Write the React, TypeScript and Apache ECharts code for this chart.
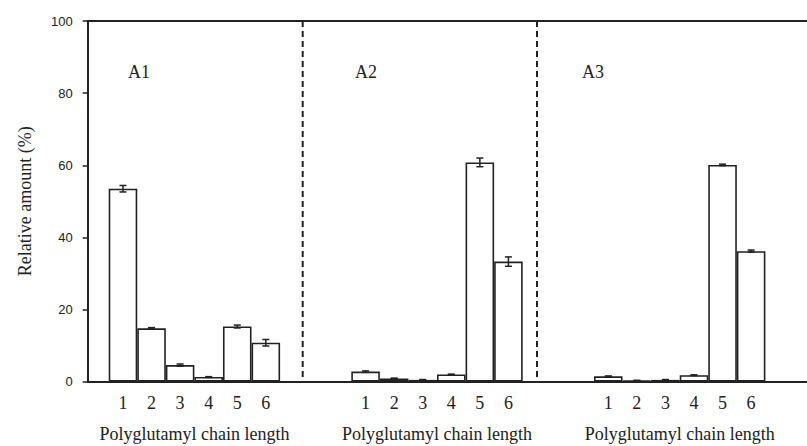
import React, { useEffect, useRef } from "react";
import * as echarts from "echarts";

// ---- data ----
const categories = ["1", "2", "3", "4", "5", "6"];
const panelLabels = ["A1", "A2", "A3"];
const a1Values = [53.5, 14.8, 4.6, 1.3, 15.3, 10.8];
const a1Errors = [0.9, 0.2, 0.3, 0.1, 0.4, 0.9];
const a2Values = [2.8, 0.9, 0.5, 2.0, 60.8, 33.3];
const a2Errors = [0.2, 0.1, 0.1, 0.1, 1.2, 1.3];
const a3Values = [1.5, 0.3, 0.5, 1.8, 60.1, 36.2];
const a3Errors = [0.1, 0.1, 0.1, 0.1, 0.2, 0.3];
const xAxisName = "Polyglutamyl chain length";
const yAxisName = "Relative amount (%)";
const yMin = 0;
const yMax = 100;
const yInterval = 20;

// ---- layout ----
const W = 807;
const H = 446;
const PLOT_TOP = 21;
const PLOT_BOTTOM = 381.7;
const Y_AXIS_X = 87.7;
const PANEL_LEFTS = [108.7, 351.3, 594];
const PANEL_WIDTH = 171.4;
const SEPARATORS = [302.7, 537];
const LABEL_POS = [
  [128, 72],
  [355, 72],
  [582, 72],
];
const INK = "#222";
const SERIF = "Liberation Serif";
const SANS = "Liberation Sans";

const panelValues = [a1Values, a2Values, a3Values];
const panelErrors = [a1Errors, a2Errors, a3Errors];

export default function App() {
  const ref = useRef<HTMLDivElement>(null);

  useEffect(() => {
    if (!ref.current) return;
    const chart = echarts.init(ref.current, null, { renderer: "svg" });
    const gridBottom = H - PLOT_BOTTOM;

    const grids: any[] = [
      {
        left: Y_AXIS_X,
        right: 0,
        top: PLOT_TOP,
        bottom: gridBottom,
        outerBoundsMode: "none",
      },
      ...PANEL_LEFTS.map((l) => ({
        left: l,
        width: PANEL_WIDTH,
        top: PLOT_TOP,
        bottom: gridBottom,
        outerBoundsMode: "none",
      })),
    ];

    const xAxes: any[] = [
      {
        type: "value",
        gridIndex: 0,
        min: 0,
        max: 1,
        position: "bottom",
        axisLine: { show: true, onZero: false, lineStyle: { color: INK, width: 2 } },
        axisTick: { show: false },
        axisLabel: { show: false },
        splitLine: { show: false },
      },
      {
        type: "value",
        gridIndex: 0,
        min: 0,
        max: 1,
        position: "top",
        axisLine: { show: true, onZero: false, lineStyle: { color: INK, width: 2 } },
        axisTick: { show: false },
        axisLabel: { show: false },
        splitLine: { show: false },
      },
      ...PANEL_LEFTS.map((_, i) => ({
        type: "category",
        gridIndex: i + 1,
        data: categories,
        axisLine: { show: false },
        axisTick: { show: false },
        axisLabel: {
          margin: 12,
          fontFamily: SERIF,
          fontSize: 18,
          color: INK,
        },
        name: xAxisName,
        nameLocation: "middle",
        nameGap: 43,
        nameTextStyle: { fontFamily: SERIF, fontSize: 18, color: INK },
        splitLine: { show: false },
      })),
    ];

    const yAxes: any[] = [
      {
        type: "value",
        gridIndex: 0,
        min: yMin,
        max: yMax,
        interval: yInterval,
        axisLine: { show: true, lineStyle: { color: INK, width: 2 } },
        axisTick: { show: true, inside: false, length: 5, lineStyle: { color: INK, width: 1.5 } },
        axisLabel: { margin: 15, fontFamily: SANS, fontSize: 13, color: INK },
        splitLine: { show: false },
        name: yAxisName,
        nameLocation: "middle",
        nameRotate: 90,
        nameGap: 54,
        nameTextStyle: { fontFamily: SERIF, fontSize: 18, color: INK },
      },
      ...PANEL_LEFTS.map((_, i) => ({
        type: "value",
        gridIndex: i + 1,
        min: yMin,
        max: yMax,
        show: false,
      })),
    ];

    const series: any[] = [];
    panelValues.forEach((vals, i) => {
      series.push({
        type: "bar",
        name: panelLabels[i],
        xAxisIndex: i + 2,
        yAxisIndex: i + 1,
        data: vals,
        barCategoryGap: "0%",
        itemStyle: { color: "#fff", borderColor: INK, borderWidth: 1.6 },
        emphasis: { disabled: true },
        silent: true,
      });
      series.push({
        type: "custom",
        name: panelLabels[i] + " error",
        xAxisIndex: i + 2,
        yAxisIndex: i + 1,
        silent: true,
        data: vals.map((v, j) => [j, v - panelErrors[i][j], v + panelErrors[i][j]]),
        renderItem: (params: any, api: any) => {
          const x = api.value(0);
          const lo = api.coord([x, api.value(1)]);
          const hi = api.coord([x, api.value(2)]);
          const hw = 3.5;
          const style = { stroke: INK, lineWidth: 1.5 };
          return {
            type: "group",
            children: [
              { type: "line", shape: { x1: lo[0], y1: lo[1], x2: hi[0], y2: hi[1] }, style },
              { type: "line", shape: { x1: lo[0] - hw, y1: lo[1], x2: lo[0] + hw, y2: lo[1] }, style },
              { type: "line", shape: { x1: hi[0] - hw, y1: hi[1], x2: hi[0] + hw, y2: hi[1] }, style },
            ],
          };
        },
        z: 5,
      });
    });

    const graphic: any[] = [
      ...SEPARATORS.map((x) => ({
        type: "line",
        silent: true,
        shape: { x1: x, y1: PLOT_TOP, x2: x, y2: PLOT_BOTTOM },
        style: { stroke: INK, lineWidth: 2, lineDash: [6, 4] },
      })),
      ...panelLabels.map((t, i) => ({
        type: "text",
        silent: true,
        x: LABEL_POS[i][0],
        y: LABEL_POS[i][1],
        style: {
          text: t,
          fontFamily: SERIF,
          fontSize: 18,
          fill: INK,
          align: "left",
          verticalAlign: "middle",
        },
      })),
    ];

    chart.setOption({
      animation: false,
      backgroundColor: "#fff",
      grid: grids,
      xAxis: xAxes,
      yAxis: yAxes,
      series,
      graphic,
      tooltip: { show: false },
    });

    return () => chart.dispose();
  }, []);

  return (
    <div
      ref={ref}
      style={{ position: "absolute", left: 0, top: 0, width: W, height: H }}
    />
  );
}
